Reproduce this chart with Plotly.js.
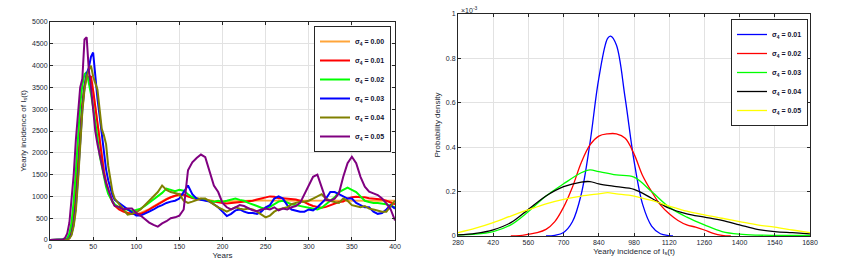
<!DOCTYPE html>
<html>
<head>
<meta charset="utf-8">
<script src="https://cdn.plot.ly/plotly-3.0.1.min.js"></script>
<style>html,body{margin:0;padding:0;background:#fff}#chart{width:843px;height:267px}</style>
</head>
<body>
<div id="chart"></div>
<script>
// ---------- Left panel: yearly incidence time series ----------
const years = [0,5,10,15,17.5,20,22.5,25,27.5,30,32.5,35,37.5,40,42.5,45,47.5,50,52.5,55,57.5,60,62.5,65,67.5,70,72.5,75,
  80,85,90,95,100,105,110,115,120,125,130,135,140,145,150,155,160,165,170,175,180,185,190,195,200,205,210,215,220,225,230,235,240,245,250,255,260,265,270,275,280,285,290,295,300,305,310,315,320,325,330,335,340,345,350,355,360,365,370,375,380,385,390,395,400];

const sigmaLeftLabels = ["0.00","0.01","0.02","0.03","0.04","0.05"];

const s000 = [0,0,0,3,8,20,70,220,550,1050,1750,2500,3100,3500,3700,3720,3650,3400,3050,2650,2250,1900,1600,1350,1150,1000,890,800,
  720,660,620,600,600,620,660,710,770,830,890,940,980,1010,1020,1020,1000,980,960,940,920,905,895,890,885,885,890,890,895,900,905,910,910,910,905,905,905,900,900,900,900,900,900,900,900,900,900,900,900,900,900,900,900,900,900,900,900,900,900,900,900,900,900,900,900];
const s001 = [0,0,0,3,10,25,90,260,600,1150,1850,2600,3150,3550,3780,3720,3760,3430,3050,2650,2250,1880,1560,1310,1120,980,870,790,
  700,650,620,600,590,600,640,700,760,820,880,930,980,1020,1050,1040,1000,960,940,930,920,900,880,860,850,840,850,860,870,880,880,900,930,950,980,1000,990,960,960,950,940,930,900,870,820,780,760,740,760,800,840,870,880,950,980,990,980,980,960,950,950,930,900,860,820];
const s002 = [0,0,0,5,15,40,150,400,900,1600,2400,3100,3550,3800,3850,3620,3350,3050,2750,2350,1950,1680,1420,1220,1060,960,880,820,
  750,720,690,660,690,720,780,850,920,1000,1080,1180,1150,1120,1150,1130,1050,980,950,930,920,900,880,900,880,900,930,950,920,900,850,820,780,740,720,760,830,880,900,860,820,800,780,760,740,720,700,740,820,900,980,1100,1150,1200,1150,1100,1000,900,870,850,850,830,820,780,750];
const s003 = [0,0,0,2,5,12,45,140,370,780,1450,2250,3000,3500,3820,3950,4200,4300,3750,3250,2850,2400,1950,1620,1370,1170,1020,920,
  850,780,700,620,560,560,600,650,700,760,800,850,880,900,950,1100,1250,1050,950,920,900,880,820,750,650,550,600,680,700,650,620,620,600,650,750,800,950,1000,950,800,700,680,650,650,700,680,750,850,950,1100,1100,1050,1000,950,950,850,800,750,750,650,600,620,700,800,720];
const s004 = [0,0,0,1,3,8,35,110,320,680,1350,2150,2950,3450,3750,3900,4000,3750,3600,3450,3000,2550,2400,2200,1700,1350,1100,950,
  820,700,580,600,640,700,800,900,1000,1100,1250,1150,1100,1080,1050,900,850,880,920,950,950,880,820,750,700,650,700,750,720,700,720,700,650,580,520,560,650,700,720,750,820,850,880,880,900,950,1000,1050,950,900,870,850,950,900,800,780,750,780,720,700,680,650,650,780,900];
const s005 = [0,0,0,10,50,150,400,900,1500,2300,3000,3500,3700,4600,4650,3900,3500,2950,2500,2200,1950,1750,1500,1300,1150,1000,880,780,
  760,700,720,720,620,560,480,400,345,306,380,430,500,520,560,700,1600,1780,1880,1960,1900,1550,1250,1100,850,750,700,750,800,780,720,680,660,700,720,700,750,680,720,700,750,780,850,1050,1250,1450,1500,1200,920,900,950,1070,1450,1760,1910,1760,1450,1225,1110,1070,1030,950,840,700,450];

// ---------- Right panel: probability densities (x10^-3) ----------
const sigmaRightLabels = ["0.01","0.02","0.03","0.04","0.05"];
const d01x = [630,665,700,735,770,805,840,875,887,910,945,980,1015,1050,1085,1120,1135];
const d01y = [0,0.003,0.016,0.064,0.187,0.42,0.71,0.89,0.9,0.86,0.62,0.34,0.14,0.045,0.01,0.002,0];
const d02x = [490,525,560,595,630,665,700,735,770,805,840,875,910,945,980,1015,1050,1085,1120,1155,1190,1225,1260,1295,1330,1365];
const d02y = [0,0.002,0.008,0.015,0.03,0.065,0.13,0.22,0.33,0.41,0.45,0.46,0.46,0.44,0.37,0.27,0.2,0.14,0.1,0.07,0.05,0.04,0.027,0.012,0.003,0];
const d03x = [280,350,420,490,560,630,700,770,805,840,910,980,1050,1120,1190,1260,1330,1400,1470,1540,1610,1680];
const d03y = [0.005,0.008,0.02,0.05,0.11,0.18,0.235,0.285,0.298,0.29,0.275,0.265,0.2,0.13,0.085,0.05,0.02,0.008,0.004,0.003,0.003,0.003];
const d04x = [280,350,420,490,560,630,700,770,805,840,910,980,1050,1120,1190,1260,1330,1400,1470,1540,1610,1680];
const d04y = [0.005,0.012,0.028,0.06,0.12,0.18,0.222,0.243,0.245,0.235,0.222,0.21,0.17,0.125,0.1,0.085,0.07,0.05,0.03,0.02,0.015,0.01];
const d05x = [280,350,420,490,560,630,700,770,840,875,910,980,1050,1120,1190,1260,1330,1400,1470,1540,1610,1680];
const d05y = [0.015,0.035,0.06,0.09,0.118,0.145,0.165,0.18,0.19,0.195,0.19,0.18,0.16,0.135,0.112,0.095,0.08,0.065,0.05,0.04,0.027,0.015];

const leftSeries = [s000,s001,s002,s003,s004,s005];
const leftColors = ["#ffa53a","#ff0000","#00ff00","#0000ff","#808000","#800080"];
const rightX = [d01x,d02x,d03x,d04x,d05x];
const rightY = [d01y,d02y,d03y,d04y,d05y];
const rightColors = ["#0000ff","#ff0000","#00ff00","#000000","#ffff00"];

const traces = [];
leftSeries.forEach((s,i)=>{
  traces.push({x: years, y: s, type:'scatter', mode:'lines', xaxis:'x', yaxis:'y',
    line:{color:leftColors[i], width:2}, name:'<b>σ<sub>4</sub> = '+sigmaLeftLabels[i]+'</b>', legend:'legend'});
});
rightX.forEach((xs,i)=>{
  traces.push({x: xs, y: rightY[i], type:'scatter', mode:'lines', xaxis:'x2', yaxis:'y2',
    line:{color:rightColors[i], width:1.3, shape:'spline', smoothing:1}, name:'<b>σ<sub>4</sub> = '+sigmaRightLabels[i]+'</b>', legend:'legend2'});
});

const axColor = '#262626';
const tickFont = {family:'Liberation Sans, Arial, sans-serif', size:7, color:'#1a1f33'};
const titleFont = {family:'Liberation Sans, Arial, sans-serif', size:8, color:'#1a1f33'};
function ax(extra){
  return Object.assign({showline:true, linecolor:axColor, linewidth:1, mirror:'ticks', ticks:'inside', ticklen:3,
    tickcolor:axColor, showgrid:true, gridcolor:'#e2e2e2', gridwidth:1, zeroline:false, tickfont:tickFont}, extra);
}
const legFont = {family:'Liberation Sans, Arial, sans-serif', size:7, color:'#101030'};

const layout = {
  width:843, height:267, margin:{l:0,r:0,t:0,b:0},
  paper_bgcolor:'#fff', plot_bgcolor:'#fff', showlegend:true,
  xaxis: ax({domain:[50/843,395/843], range:[0,400], tickvals:[0,50,100,150,200,250,300,350,400], anchor:'y',
    title:{text:'Years', font:titleFont, standoff:2}}),
  yaxis: ax({domain:[1-240/267,1-22/267], range:[0,5000], tickvals:[0,500,1000,1500,2000,2500,3000,3500,4000,4500,5000], anchor:'x',
    title:{text:'Yearly incidence of I<sub>s</sub>(t)', font:titleFont, standoff:4}}),
  xaxis2: ax({domain:[458/843,810/843], range:[280,1680], tickvals:[280,420,560,700,840,980,1120,1260,1400,1540,1680], anchor:'y2',
    title:{text:'Yearly incidence of I<sub>s</sub>(t)', font:titleFont, standoff:2}}),
  yaxis2: ax({domain:[1-236/267,1-14/267], range:[0,1], tickvals:[0,0.2,0.4,0.6,0.8,1], ticktext:['0','0.2','0.4','0.6','0.8','1'], anchor:'x2',
    title:{text:'Probability density', font:titleFont, standoff:4}}),
  legend:{x:391/843, y:1-26/267, xanchor:'right', yanchor:'top', bgcolor:'#fff', bordercolor:axColor, borderwidth:1,
    font:legFont, itemwidth:30, tracegroupgap:0},
  legend2:{x:808/843, y:1-19/267, xanchor:'right', yanchor:'top', bgcolor:'#fff', bordercolor:axColor, borderwidth:1,
    font:legFont, itemwidth:30, tracegroupgap:0},
  annotations:[{text:'×10<sup>-3</sup>', xref:'paper', yref:'paper', x:459/843, y:1-4/267, xanchor:'left', yanchor:'top',
    showarrow:false, font:{family:'Liberation Sans, Arial, sans-serif', size:7, color:'#1a1f33'}}]
};

Plotly.newPlot('chart', traces, layout, {displayModeBar:false, staticPlot:true});
</script>
</body>
</html>
